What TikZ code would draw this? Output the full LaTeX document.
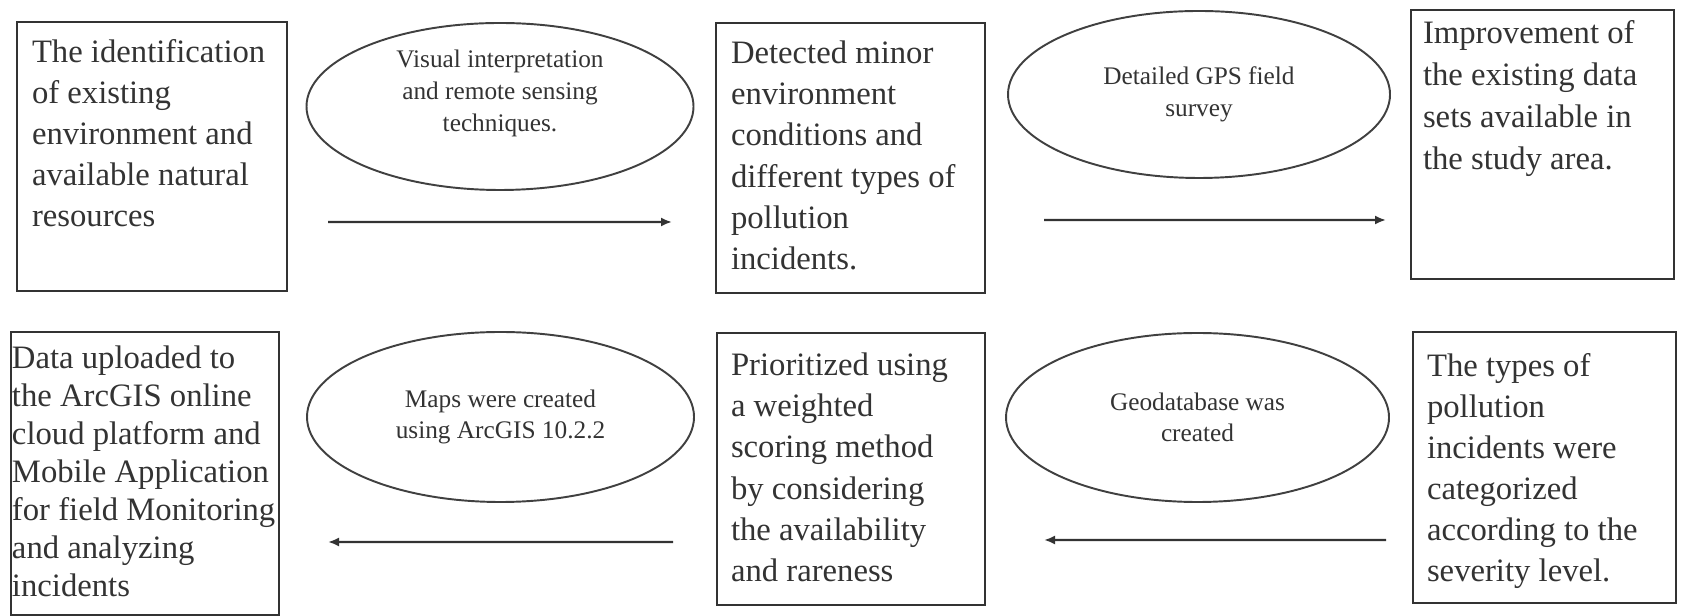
\documentclass[tikz,border=0pt]{standalone}
\usepackage{fontspec}
\setmainfont{Liberation Serif}
\usetikzlibrary{shapes.geometric, arrows.meta}
\newcommand{\stagetext}[3]{\parbox[t][#2cm][t]{#1cm}{\raggedright #3}}

\begin{document}
\begin{tikzpicture}[
    stage/.style={draw=black!80, line width=0.8pt, rectangle, anchor=north west, outer sep=0pt, inner xsep=0.15cm, inner ysep=0.17cm, text=black!80, font=\fontsize{9.3}{11.7}\selectfont},
    oval/.style={draw=black!75, line width=0.55pt, ellipse, inner sep=0pt, outer sep=0pt, minimum width=3.87cm, minimum height=1.67cm, align=center, text=black!80, font=\fontsize{7.2}{9}\selectfont},
    ovaltext/.style={align=center, inner sep=0pt, text=black!80, font=\fontsize{7.2}{9}\selectfont},
    flow/.style={draw=black!80, line width=0.6pt, -{Latex[length=1.1mm, width=0.9mm]}}
]
    \useasboundingbox (0, 0) rectangle (16.81, -6.16);
    \node[stage] (box1) at (0.17, -0.22) {\stagetext{2.40}{2.35}{The identification\\of existing\\environment and\\available natural\\resources}};
    \node[stage, inner ysep=0.18cm] (box2) at (7.16, -0.23) {\stagetext{2.39}{2.34}{Detected minor\\environment\\conditions and\\different types of\\pollution\\incidents.}};
    \node[stage, inner xsep=0.12cm, inner ysep=0.10cm, font=\fontsize{9.3}{12}\selectfont] (box3) at (14.11, -0.10) {\stagetext{2.39}{2.49}{Improvement of\\the existing data\\sets available in\\the study area.}};
    \node[stage, inner xsep=0.01cm, inner ysep=0.14cm, font=\fontsize{9.3}{10.8}\selectfont] (box4) at (0.11, -3.32) {\stagetext{2.66}{2.55}{Data uploaded to\\the ArcGIS online\\cloud platform and\\Mobile Application\\for field Monitoring\\and analyzing\\incidents}};
    \node[stage, inner xsep=0.14cm, inner ysep=0.20cm] (box5) at (7.17, -3.33) {\stagetext{2.40}{2.32}{Prioritized using\\a weighted\\scoring method\\by considering\\the availability\\and rareness}};
    \node[stage, inner xsep=0.14cm, inner ysep=0.21cm] (box6) at (14.13, -3.32) {\stagetext{2.35}{2.29}{The types of\\pollution\\incidents were\\categorized\\according to the\\severity level.}};
    \node[oval] (ell1) at (5.00, -1.065) {};
    \node[ovaltext] (ell1text) at ([yshift=0.13cm]ell1.center) {Visual interpretation\\and remote sensing\\techniques.};
    \node[oval, minimum width=3.82cm] (ell2) at (11.99, -0.945) {Detailed GPS field\\survey};
    \node[oval, minimum height=1.70cm] (ell3) at (5.005, -4.17) {Maps were created\\using ArcGIS 10.2.2};
    \node[oval, minimum width=3.83cm, minimum height=1.69cm] (ell4) at (11.975, -4.175) {Geodatabase was\\created};
    \draw[flow] ([shift={(0.41, -0.655)}]box1.east) -- ([shift={(-0.44, -0.64)}]box2.west);
    \draw[flow] ([shift={(0.59, -0.62)}]box2.east) -- ([shift={(-0.25, -0.755)}]box3.west);
    \draw[flow] ([shift={(-0.44, -0.73)}]box5.west) -- ([shift={(0.49, -0.685)}]box4.east);
    \draw[flow] ([shift={(-0.27, -0.725)}]box6.west) -- ([shift={(0.59, -0.71)}]box5.east);
\end{tikzpicture}
\end{document}
